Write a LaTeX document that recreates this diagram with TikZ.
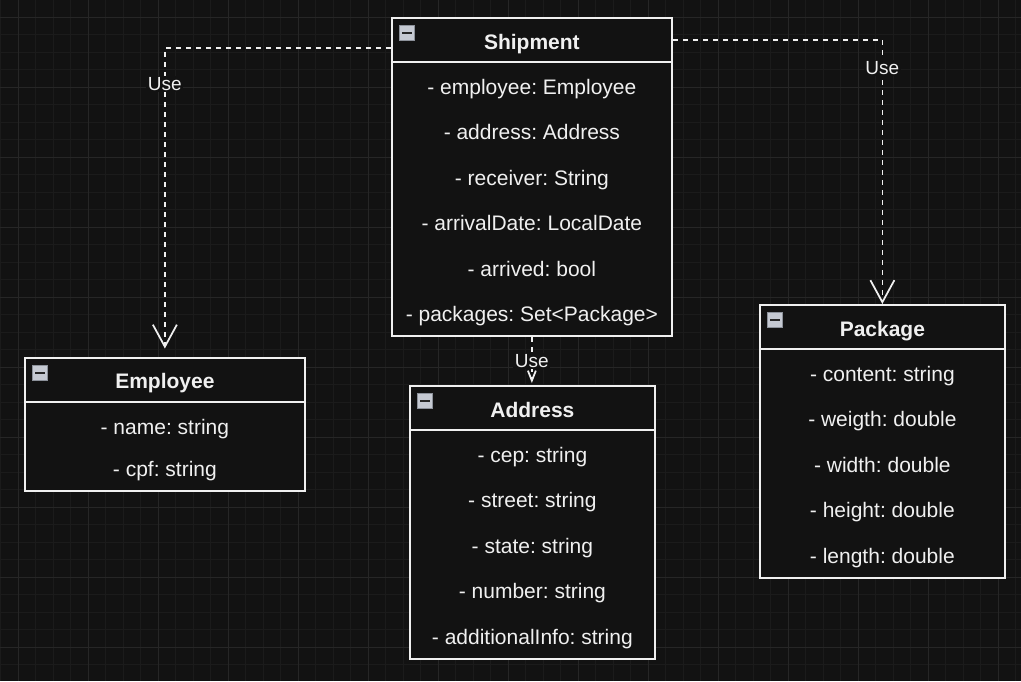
\documentclass[tikz,border=0pt]{standalone}
\usepackage{fontspec}
\setmainfont{Liberation Sans}
\frenchspacing
\usetikzlibrary{calc,arrows.meta}
\definecolor{bg}{HTML}{121212}
\definecolor{fg}{HTML}{F0F0F0}
\definecolor{minorgrid}{HTML}{1B1B1B}
\definecolor{majorgrid}{HTML}{262626}
\definecolor{iconfill}{HTML}{C5C9D2}
\definecolor{iconline}{HTML}{8C919A}
\tikzset{
  classbox/.style={draw=fg, line width=1.75pt, fill=bg, inner sep=0pt, anchor=north west},
  classname/.style={font=\bfseries\fontsize{21}{25}\selectfont, text=fg, anchor=base},
  attrib/.style={font=\fontsize{21}{25}\selectfont, text=fg, anchor=base},
  depend/.style={draw=fg, line width=1.75pt, dash pattern=on 5pt off 5pt},
  uselabel/.style={font=\fontsize{19}{22}\selectfont, text=fg, fill=bg, inner sep=1.5pt},
}
\newcommand{\classicon}[1]{%
  \draw[iconline, fill=iconfill, line width=1pt] ($(#1.north west)+(8,8)$) rectangle +(15.5,15.5);
  \fill[black!85] ($(#1.north west)+(11,15)$) rectangle +(9.5,2.2);}
\newcommand{\classhead}[1]{%
  \draw[fg, line width=1.75pt] ($(#1.north west)+(0,45)$) -- ($(#1.north east)+(0,45)$);}

\begin{document}
\begin{tikzpicture}[x=1pt, y=-1pt]
		%%%%% START %%%%%
		\useasboundingbox (0,0) rectangle (1021,681);
		\fill[bg] (0,0) rectangle (1021,681);
		
		% grid
		\foreach \k in {0,...,58} \draw[minorgrid, line width=1pt] ({0.8+17.5*\k},0) -- ++(0,681);
		\foreach \k in {0,...,39} \draw[minorgrid, line width=1pt] (0,{-0.2+17.5*\k}) -- ++(1021,0);
		\foreach \k in {0,...,14} \draw[majorgrid, line width=1pt] ({18.3+70*\k},0) -- ++(0,681);
		\foreach \k in {0,...,9} \draw[majorgrid, line width=1pt] (0,{17.3+70*\k}) -- ++(1021,0);
		
		% classes
		\node[classbox, minimum width=280pt, minimum height=318pt] (shipment) at (391,17) {};
		\node[classbox, minimum width=280pt, minimum height=133pt] (employee) at (24,357) {};
		\node[classbox, minimum width=245pt, minimum height=273pt] (address) at (409,385) {};
		\node[classbox, minimum width=245pt, minimum height=273pt] (package) at (759,304) {};
		
		\classhead{shipment} \classhead{employee} \classhead{address} \classhead{package}
		\classicon{shipment} \classicon{employee} \classicon{address} \classicon{package}
		
		\node[classname] (shipmenttitle) at ($(shipment.north)+(0,32)$) {Shipment};
		\node[classname] (employeetitle) at ($(employee.north)+(0,31.5)$) {Employee};
		\node[classname] (addresstitle) at ($(address.north)+(0,32)$) {Address};
		\node[classname] (packagetitle) at ($(package.north)+(0,32)$) {Package};
		
		\foreach \a [count=\i] in {- employee: Employee, - address: Address, - receiver: String,
		    - arrivalDate: LocalDate, - arrived: bool, - packages: Set<Package>}
		  \node[attrib] at ($(shipment.north)+(0,{77+45.5*(\i-1)})$) {\a};
		\foreach \a [count=\i] in {- name: string, - cpf: string}
		  \node[attrib] at ($(employee.north)+(0,{77.5+42*(\i-1)})$) {\a};
		\foreach \a [count=\i] in {- cep: string, - street: string, - state: string,
		    - number: string, - additionalInfo: string}
		  \node[attrib] at ($(address.north)+(0,{77+45.5*(\i-1)})$) {\a};
		\foreach \a [count=\i] in {- content: string, - weigth: double, - width: double,
		    - height: double, - length: double}
		  \node[attrib] at ($(package.north)+(0,{77+45.5*(\i-1)})$) {\a};
		
		% dependencies
		\coordinate (toemployee) at ($(shipment.north west)+(0,31)$);
		\coordinate (topackage) at ($(shipment.north east)+(0,23)$);
		\draw[depend, -{Straight Barb[length=22pt,width=24pt]}, shorten >=8.5pt]
		  (toemployee) -| node[uselabel, pos=0.558] {Use} (employee.north);
		\draw[depend, -{Straight Barb[length=22pt,width=24pt]}]
		  (topackage) -| node[uselabel, pos=0.553] {Use} (package.north);
		\draw[depend, -{Straight Barb[length=10pt,width=8pt]}, shorten >=2pt]
		  (shipment.south) -- node[uselabel] {Use} (shipment.south |- address.north);
		%%%%% END %%%%%
\end{tikzpicture}
\end{document}
